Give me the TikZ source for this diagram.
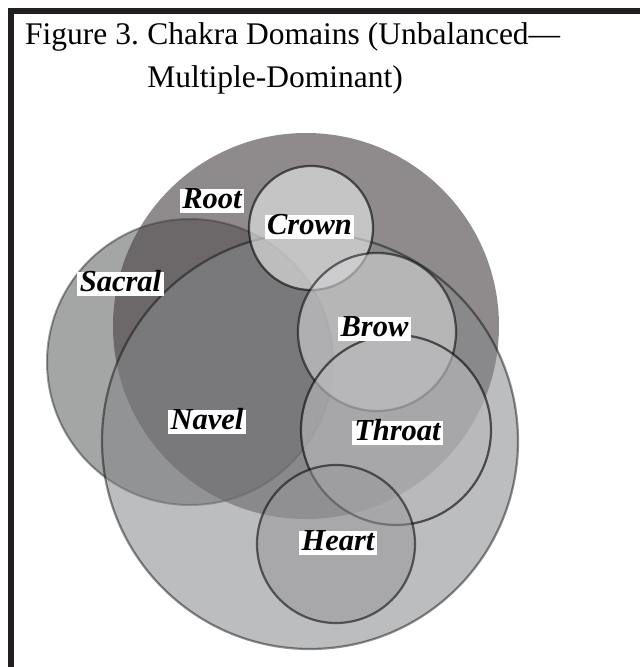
\documentclass[tikz,border=0pt]{standalone}
\usepackage{fontspec}
\setmainfont{Liberation Serif}
\definecolor{framec}{RGB}{35,31,32}
\definecolor{sacralc}{RGB}{164,165,165}
\definecolor{rootc}{RGB}{74,68,70}
\definecolor{navelc}{RGB}{132,134,137}
\definecolor{crownc}{RGB}{235,235,235}
\definecolor{browc}{RGB}{212,212,214}
\definecolor{throatc}{RGB}{184,184,186}
\definecolor{heartc}{RGB}{150,150,153}
\tikzset{
  zone/.style={circle, inner sep=0pt, outer sep=0pt},
  lbl/.style={fill=white, inner xsep=2.5pt, inner ysep=0.5pt, text height=19pt, text depth=4pt,
    font=\fontsize{30.5}{31}\selectfont\bfseries\itshape},
  ttl/.style={inner sep=0pt, anchor=base west, font=\fontsize{31.5}{43}\selectfont}
}
\begin{document}
\begin{tikzpicture}[x=1pt,y=-1pt]
\useasboundingbox (0,0) rectangle (640,667);
% frame
\fill[framec] (8,8) rectangle (640,14);
\fill[framec] (8,8) rectangle (14,667);
% title
\node[ttl] (t1) at (25,44) {Figure 3.};
\node[ttl, xshift=8pt] (t2) at (t1.base east) {Chakra Domains (Unbalanced—};
\node[ttl, yshift=-43pt] (t3) at (t2.base west) {Multiple-Dominant)};
% large domains
\node[zone, minimum size=286pt, fill=sacralc, draw=black, draw opacity=0.38, line width=2pt] (sacral) at (190,362) {};
\node[zone, minimum size=386pt, fill=rootc, fill opacity=0.62] (root) at (306,326) {};
\node[zone, minimum size=416pt, fill=navelc, fill opacity=0.55, draw=black, draw opacity=0.44, line width=2.2pt] (navel) at (310,441) {};
% small domains
\node[zone, minimum size=124pt, fill=crownc, fill opacity=0.6, draw=black, draw opacity=0.6, line width=2.2pt] (crown) at (311,228) {};
\node[zone, minimum size=158pt, fill=browc, fill opacity=0.6, draw=black, draw opacity=0.55, line width=2.2pt] (brow) at (377,332) {};
\node[zone, minimum size=190pt, fill=throatc, fill opacity=0.64, draw=black, draw opacity=0.6, line width=2.2pt] (throat) at (396,430) {};
\node[zone, minimum size=158pt, fill=heartc, fill opacity=0.51, draw=black, draw opacity=0.55, line width=2.2pt] (heart) at (336,544) {};
% labels
\node[lbl] (lroot) at (212,201) {Root};
\node[lbl] (lcrown) at (309.5,227) {Crown};
\node[lbl] (lsacral) at (120.5,284) {Sacral};
\node[lbl] (lbrow) at (374.5,329) {Brow};
\node[lbl] (lthroat) at (397.5,432.5) {Throat};
\node[lbl] (lheart) at (338,542.5) {Heart};
\node[lbl] (lnavel) at (207,421.5) {Navel};
\end{tikzpicture}
\end{document}
